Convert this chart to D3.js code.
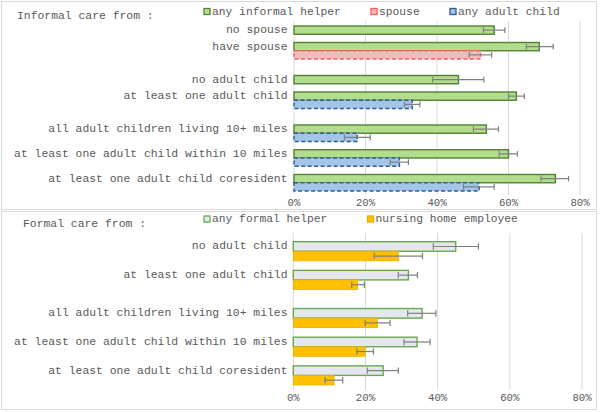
<!DOCTYPE html>
<html>
<head>
<meta charset="utf-8">
<script src="https://cdn.jsdelivr.net/npm/d3@7"></script>
<style>
  body { margin: 0; background: #fff; }
  svg { display: block; }
  text { font-family: "Liberation Mono", "Courier New", monospace; fill: #595959; }
</style>
</head>
<body>
<svg id="svg" width="600" height="412"></svg>
<script>
// ---- data (percent) ----
var informalCats = ["no spouse", "have spouse", "no adult child", "at least one adult child",
  "all adult children living 10+ miles", "at least one adult child within 10 miles",
  "at least one adult child coresident"];
var informalGroups = [2, 2, 3];
var anyInformal = [56, 68.6, 46, 62.2, 53.8, 60, 73.1];
var anyInformalLo = [53, 65, 38.8, 60, 50.2, 57.4, 69.1];
var anyInformalHi = [59, 72.5, 53.1, 64.4, 57.2, 62.5, 76.8];
var spouse = [null, 52.2, null, null, null, null, null];
var spouseLo = [null, 49, null, null, null, null, null];
var spouseHi = [null, 55.3, null, null, null, null, null];
var anyChild = [null, null, null, 33.1, 17.7, 29.5, 51.8];
var anyChildLo = [null, null, null, 30.9, 14.1, 26.9, 47.4];
var anyChildHi = [null, null, null, 35.2, 21.3, 32, 56];

var formalCats = ["no adult child", "at least one adult child",
  "all adult children living 10+ miles", "at least one adult child within 10 miles",
  "at least one adult child coresident"];
var formalGroups = [2, 3];
var anyFormal = [45, 31.9, 35.7, 34.3, 24.9];
var anyFormalLo = [38.8, 29.1, 31.7, 30.7, 20.5];
var anyFormalHi = [51.3, 34.4, 39.5, 37.9, 29.1];
var nursing = [29.1, 17.8, 23.3, 19.9, 11.3];
var nursingLo = [22.4, 16.2, 19.9, 17.6, 8.8];
var nursingHi = [35.8, 19.7, 26.8, 22.2, 13.7];

var xTicks = [0, 20, 40, 60, 80];

var svg = d3.select("#svg");

// slot index of each category row: rows inside a group, gap between groups
function slots(groups, steps){
  var out = [], s = 0;
  groups.forEach(function(n, g){
    if (g > 0) s += 4 - steps[g - 1];
    for (var i = 0; i < n; i++){
      out.push(s);
      s += steps[g];
    }
  });
  return out;
}

function drawPanel(p){
  var g = svg.append("g");
  g.append("rect")
    .attr("x", p.box[0]).attr("y", p.box[1])
    .attr("width", p.box[2]).attr("height", p.box[3])
    .attr("fill", "#fff").attr("stroke", "#d9d9d9");

  var x = d3.scaleLinear().domain([0, 80]).range(p.xr);
  var y = d3.scaleLinear().domain([0, 1]).range([p.top, p.top + p.unit]);
  var bh = y(1) - y(0);
  var rows = slots(p.groups, p.steps);

  // gridlines
  g.selectAll(".grid").data(xTicks).enter().append("line")
    .attr("x1", function(d){ return x(d); }).attr("x2", function(d){ return x(d); })
    .attr("y1", p.gridTop).attr("y2", p.gridBottom)
    .attr("stroke", "#d9d9d9").attr("stroke-width", 1);

  // tick labels
  g.selectAll(".tick").data(xTicks).enter().append("text")
    .attr("x", function(d){ return x(d); })
    .attr("y", p.tickY)
    .attr("text-anchor", "middle")
    .attr("dominant-baseline", "middle")
    .attr("font-size", 10.7)
    .text(function(d){ return d + "%"; });

  // category labels
  g.selectAll(".cat").data(p.cats).enter().append("text")
    .attr("x", p.labelX)
    .attr("y", function(d, i){ return y(rows[i]) + bh / 2; })
    .attr("text-anchor", "end")
    .attr("dominant-baseline", "middle")
    .attr("font-size", 11.4)
    .text(function(d){ return d; });

  p.series.forEach(function(s){
    var idx = d3.range(p.cats.length).filter(function(i){ return s.vals[i] != null; });
    g.selectAll(null).data(idx).enter().append("rect")
      .attr("x", x(0))
      .attr("y", function(i){ return y(rows[i] + s.off); })
      .attr("width", function(i){ return x(s.vals[i]) - x(0); })
      .attr("height", bh)
      .attr("fill", s.fill)
      .attr("stroke", s.stroke)
      .attr("stroke-width", s.sw)
      .attr("stroke-dasharray", s.dash || null);
    // error bars
    var eb = g.selectAll(null).data(idx).enter().append("g")
      .attr("stroke", "#7f7f7f").attr("stroke-width", 1.2);
    eb.append("line")
      .attr("x1", function(i){ return x(s.lo[i]); })
      .attr("x2", function(i){ return x(s.hi[i]); })
      .attr("y1", function(i){ return y(rows[i] + s.off) + bh / 2; })
      .attr("y2", function(i){ return y(rows[i] + s.off) + bh / 2; });
    [s.lo, s.hi].forEach(function(arr){
      eb.append("line")
        .attr("x1", function(i){ return x(arr[i]); })
        .attr("x2", function(i){ return x(arr[i]); })
        .attr("y1", function(i){ return y(rows[i] + s.off) + bh / 2 - p.cap; })
        .attr("y2", function(i){ return y(rows[i] + s.off) + bh / 2 + p.cap; });
    });
  });

  // title
  g.append("text")
    .attr("x", p.titleX).attr("y", p.titleY)
    .attr("dominant-baseline", "middle")
    .attr("font-size", 11.4)
    .text(p.title);

  // legend
  p.series.forEach(function(s){
    g.append("rect")
      .attr("x", s.lx).attr("y", p.legY - 3.5)
      .attr("width", 6).attr("height", 6)
      .attr("fill", s.fill)
      .attr("stroke", s.stroke)
      .attr("stroke-width", 1.3);
    g.append("text")
      .attr("x", s.lx + 8).attr("y", p.legY)
      .attr("dominant-baseline", "middle")
      .attr("font-size", 11.3)
      .text(s.name);
  });
}

drawPanel({
  box: [1.5, 1.5, 595, 208],
  xr: [294, 580],
  top: 26, unit: 8.25,
  groups: informalGroups, steps: [2, 2, 3],
  gridTop: 21, gridBottom: 195, tickY: 203.5,
  labelX: 287.5, cap: 2.8,
  cats: informalCats,
  title: "Informal care from :", titleX: 17, titleY: 16,
  legY: 12,
  series: [
    {name: "any informal helper", vals: anyInformal, lo: anyInformalLo, hi: anyInformalHi, off: 0,
     fill: "#b3dc8c", stroke: "#548235", sw: 1.4, lx: 204},
    {name: "spouse", vals: spouse, lo: spouseLo, hi: spouseHi, off: 1,
     fill: "#f2bcbc", stroke: "#ff5b5b", sw: 1.4, dash: "4,2.5", lx: 371},
    {name: "any adult child", vals: anyChild, lo: anyChildLo, hi: anyChildHi, off: 1,
     fill: "#a2c5e8", stroke: "#2f5b96", sw: 1.4, dash: "4,2.5", lx: 450}
  ]
});

drawPanel({
  box: [1.5, 211.5, 595, 198],
  xr: [293.3, 582],
  top: 241.7, unit: 9.55,
  groups: formalGroups, steps: [3, 3],
  gridTop: 233, gridBottom: 390, tickY: 398.5,
  labelX: 287.5, cap: 3.2,
  cats: formalCats,
  title: "Formal care from :", titleX: 23, titleY: 224,
  legY: 219.5,
  series: [
    {name: "any formal helper", vals: anyFormal, lo: anyFormalLo, hi: anyFormalHi, off: 0,
     fill: "#e4e8ee", stroke: "#6aa84f", sw: 1.4, lx: 204},
    {name: "nursing home employee", vals: nursing, lo: nursingLo, hi: nursingHi, off: 1,
     fill: "#ffc000", stroke: "#e8ae00", sw: 0.8, lx: 367.5}
  ]
});
</script>
</body>
</html>
